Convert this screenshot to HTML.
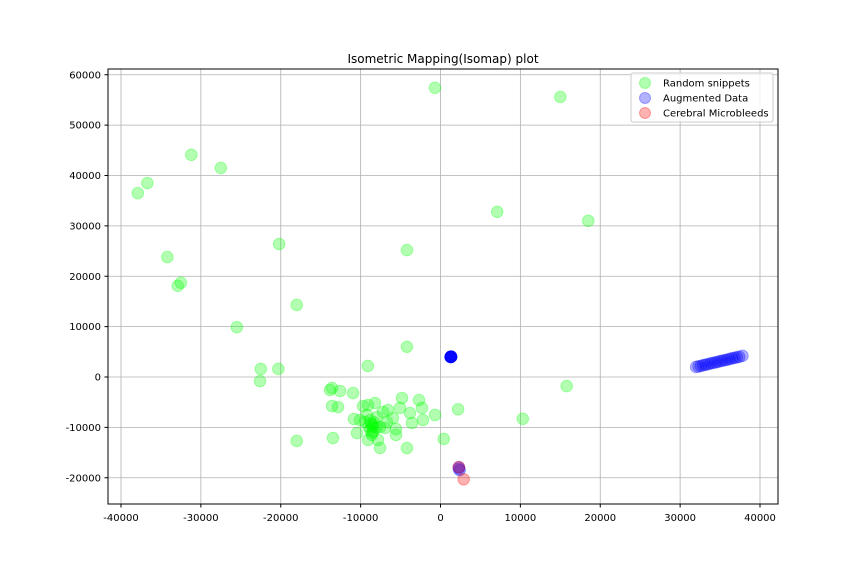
<!DOCTYPE html>
<html><head><meta charset="utf-8"><style>
body{margin:0;background:#fff;font-family:"Liberation Sans","DejaVu Sans",sans-serif}
svg text{font-family:"DejaVu Sans","Liberation Sans",sans-serif}
</style></head><body>
<svg id="chart" width="864" height="576" viewBox="0 0 864 576" xmlns="http://www.w3.org/2000/svg">
<rect width="864" height="576" fill="#fff"/>
<g id="grid"></g>
<g id="marks"></g>
<rect x="108" y="69" width="670" height="435" fill="none" stroke="#000" stroke-width="1"/>
<g id="ticks" font-size="10"></g>
<text x="443" y="63" text-anchor="middle" font-size="12">Isometric Mapping(Isomap) plot</text>
<g>
<rect x="631" y="73" width="142" height="49" rx="2" fill="#fff" fill-opacity="0.8" stroke="#ccc"/>
<g><circle cx="645" cy="83" r="5.5" fill="#00ff00" fill-opacity="0.3" stroke="#00ff00" stroke-opacity="0.3"/><text x="663" y="86.5" font-size="10">Random snippets</text></g>
<g><circle cx="645" cy="98" r="5.5" fill="#0000ff" fill-opacity="0.3" stroke="#0000ff" stroke-opacity="0.3"/><text x="663" y="101.5" font-size="10">Augmented Data</text></g>
<g><circle cx="645" cy="113" r="5.5" fill="#ff0000" fill-opacity="0.3" stroke="#ff0000" stroke-opacity="0.3"/><text x="663" y="116.5" font-size="10">Cerebral Microbleeds</text></g>
</g>
</svg>
<script>
const xTicks=[-40000,-30000,-20000,-10000,0,10000,20000,30000,40000];
const yTicks=[-20000,-10000,0,10000,20000,30000,40000,50000,60000];
const greenX=[-700,15000,-31200,-27500,-36700,-37900,7100,18500,-20200,-4200,-34200,-32500,-32900,-18000,-25500,-4200,-22500,-20300,-9100,-22600,15800,10300,-18000,2200,400,-4200,
-13580,-13830,-12580,-10950,-13580,-12830,-13460,-10830,-10450,-9700,-9080,-8200,-4820,-2690,-2320,-5070,-3820,-690,-2190,-3570,-5570,-5570,-7570,-9080,-7820,-7200,-6570,-5950,-8830,-8450,-9450,-8580,-7570,-6700,-7950,-10080,-9200,-6950,-8500,-8800,-8300,-8000,-9000,-8600,-8700,-8400];
const greenY=[57400,55600,44100,41500,38500,36500,32800,31000,26400,25200,23800,18700,18100,14300,9900,6000,1600,1600,2200,-800,-1800,-8300,-12700,-6400,-12300,-14100,
-2180,-2580,-2780,-3180,-5760,-5960,-12110,-8340,-11120,-5760,-5560,-5160,-4170,-4570,-6150,-6150,-7150,-7540,-8540,-9130,-10320,-11510,-14090,-12500,-12500,-6950,-6550,-8140,-8540,-9930,-8930,-11120,-9930,-8930,-7940,-8540,-7540,-10120,-9500,-10500,-9000,-10000,-9800,-11500,-9200,-10800];
const blueX=[1300,1300,1300,1300,1300,1300,1300,1300,1350,1250,2300,2400,2300,32000,32300,32600,32900,33200,33500,33800,34100,34400,34700,35000,35300,35600,35900,36200,36500,36800,37100,37400,37800];
const blueY=[4000,4000,4000,4000,4000,4000,4000,4000,4050,3950,-17900,-18500,-18200,2000,2100,2200,2350,2450,2550,2700,2800,2900,3000,3150,3250,3350,3450,3600,3700,3800,3900,4000,4200];
const redX=[2300,2900];
const redY=[-17900,-20300];
const NS='http://www.w3.org/2000/svg';
const X=v=>440.5+v*0.0079875, Y=v=>377-v*0.0050375;
const grid=document.getElementById('grid'),ticks=document.getElementById('ticks'),marks=document.getElementById('marks');
function mk(t,a,p){const e=document.createElementNS(NS,t);for(const k in a)e.setAttribute(k,a[k]);p.appendChild(e);return e;}
xTicks.forEach(v=>{const x=X(v);
 const l=mk('line',{x1:x,x2:x,y1:69,y2:504,stroke:'#b0b0b0','stroke-width':0.8},grid);
 
 
 mk('line',{x1:x,x2:x,y1:504,y2:507.5,stroke:'#000'},ticks);
 const t=mk('text',{x:x,y:521,'text-anchor':'middle'},ticks);t.textContent=v;
 
 });
yTicks.forEach(v=>{const y=Y(v);
 const l=mk('line',{x1:108,x2:778,y1:y,y2:y,stroke:'#b0b0b0','stroke-width':0.8},grid);
 
 
 mk('line',{x1:104.5,x2:108,y1:y,y2:y,stroke:'#000'},ticks);
 const t=mk('text',{x:101,y:y+3.5,'text-anchor':'end'},ticks);t.textContent=v;
 
 });
function series(xs,ys,c,name){xs.forEach((v,i)=>{
 const p=mk('circle',{cx:X(v),cy:Y(ys[i]),r:5.8,fill:c,'fill-opacity':0.3,stroke:c,'stroke-opacity':0.3},marks);
 
 });}
series(greenX,greenY,'#00ff00','random-snippet-point');
series(blueX,blueY,'#0000ff','augmented-point');
series(redX,redY,'#ff0000','microbleed-point');
</script>
</body></html>
